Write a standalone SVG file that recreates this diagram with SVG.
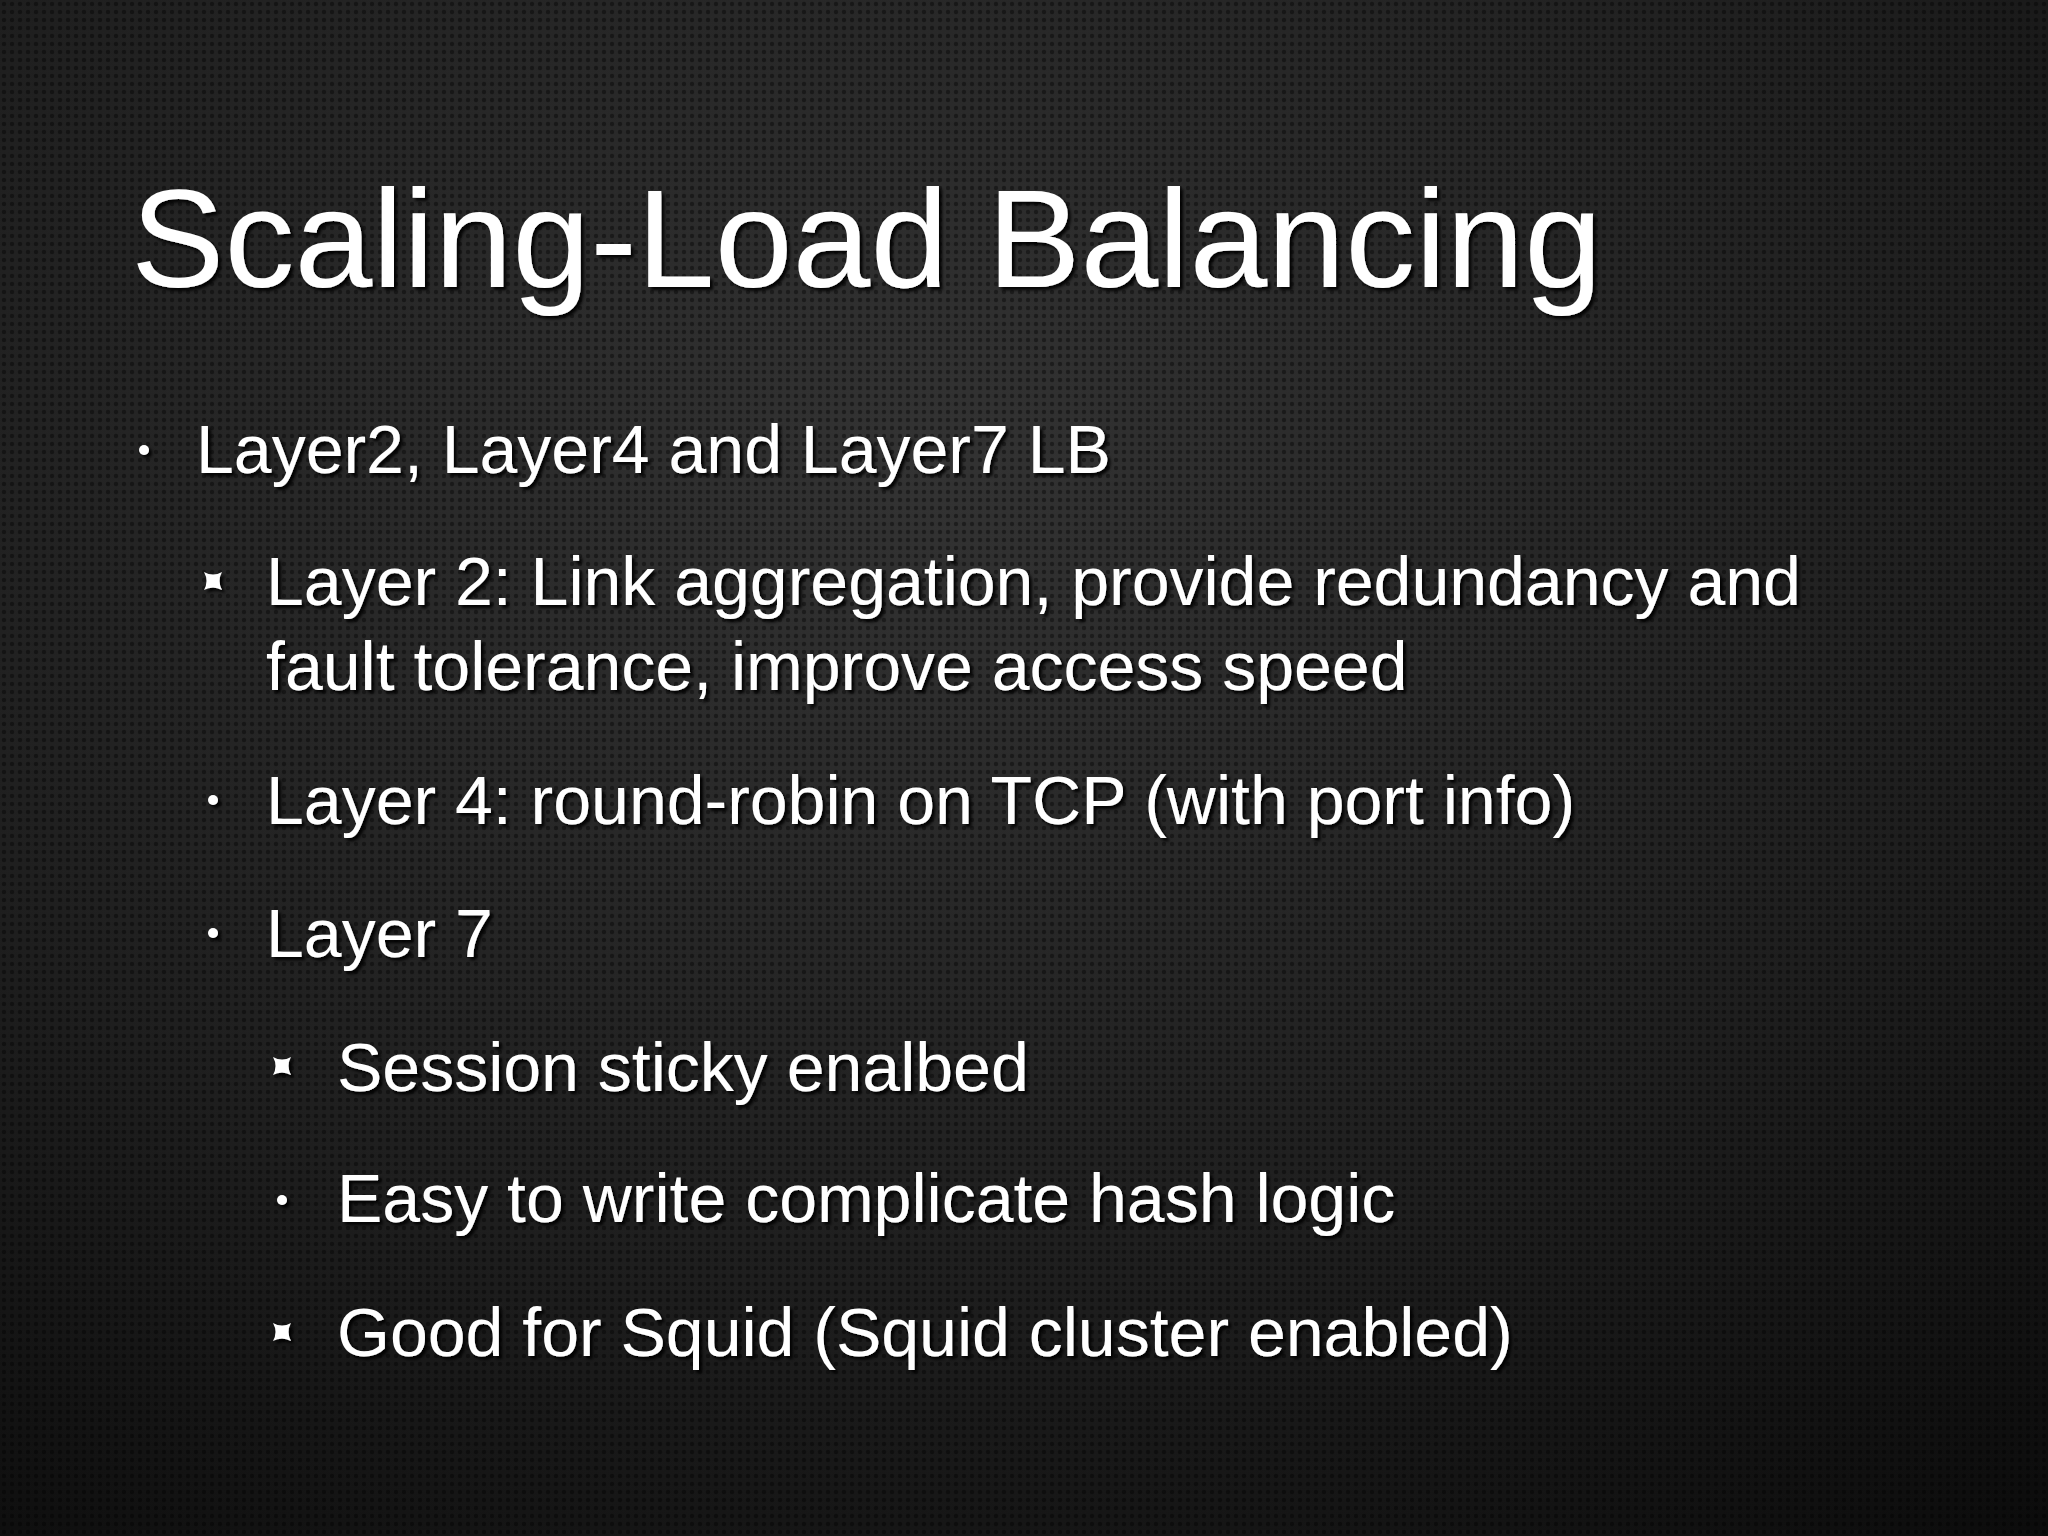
<svg xmlns="http://www.w3.org/2000/svg" width="2048" height="1536" viewBox="0 0 2048 1536">
<defs>
<radialGradient id="bg" cx="0.45" cy="0.3" r="0.9">
<stop offset="0" stop-color="#333"/>
<stop offset="0.6" stop-color="#1e1e1e"/>
<stop offset="1" stop-color="#0b0b0b"/>
</radialGradient>
<pattern id="dots" width="8" height="8" patternUnits="userSpaceOnUse">
<circle cx="4" cy="4" r="2.2" fill="#000" opacity="0.4"/>
</pattern>
<filter id="sh" x="-5%" y="-20%" width="110%" height="140%">
<feDropShadow dx="3" dy="3" stdDeviation="1.5" flood-color="#000" flood-opacity="0.9"/>
</filter>
<path id="star" d="M-9,-9 Q0,-4 9,-9 Q4,0 9,9 Q0,4 -9,9 Q-4,0 -9,-9Z" fill="#fff"/>
</defs>
<style>
text{font-family:"Liberation Sans","DejaVu Sans",sans-serif;fill:#fff;filter:url(#sh)}
.t{font-size:140px}
.b{font-size:68px}
.dot{fill:#fff}
</style>
<rect width="2048" height="1536" fill="url(#bg)"/>
<rect width="2048" height="1536" fill="url(#dots)"/>
<text class="t" x="131" y="287">Scaling-Load Balancing</text>
<g filter="url(#sh)">
<circle class="dot" cx="144" cy="450" r="5"/>
<use href="#star" x="213" y="581"/>
<circle class="dot" cx="213" cy="800" r="5"/>
<circle class="dot" cx="213" cy="933" r="5"/>
<use href="#star" x="282" y="1066"/>
<circle class="dot" cx="282" cy="1200" r="5"/>
<use href="#star" x="282" y="1332"/>
</g>
<text class="b" x="196" y="473">Layer2, Layer4 and Layer7 LB</text>
<text class="b" x="266" y="605">Layer 2: Link aggregation, provide redundancy and</text>
<text class="b" x="266" y="690">fault tolerance, improve access speed</text>
<text class="b" x="266" y="824">Layer 4: round-robin on TCP (with port info)</text>
<text class="b" x="266" y="957">Layer 7</text>
<text class="b" x="337" y="1091">Session sticky enalbed</text>
<text class="b" x="337" y="1222">Easy to write complicate hash logic</text>
<text class="b" x="337" y="1356">Good for Squid (Squid cluster enabled)</text>
</svg>
